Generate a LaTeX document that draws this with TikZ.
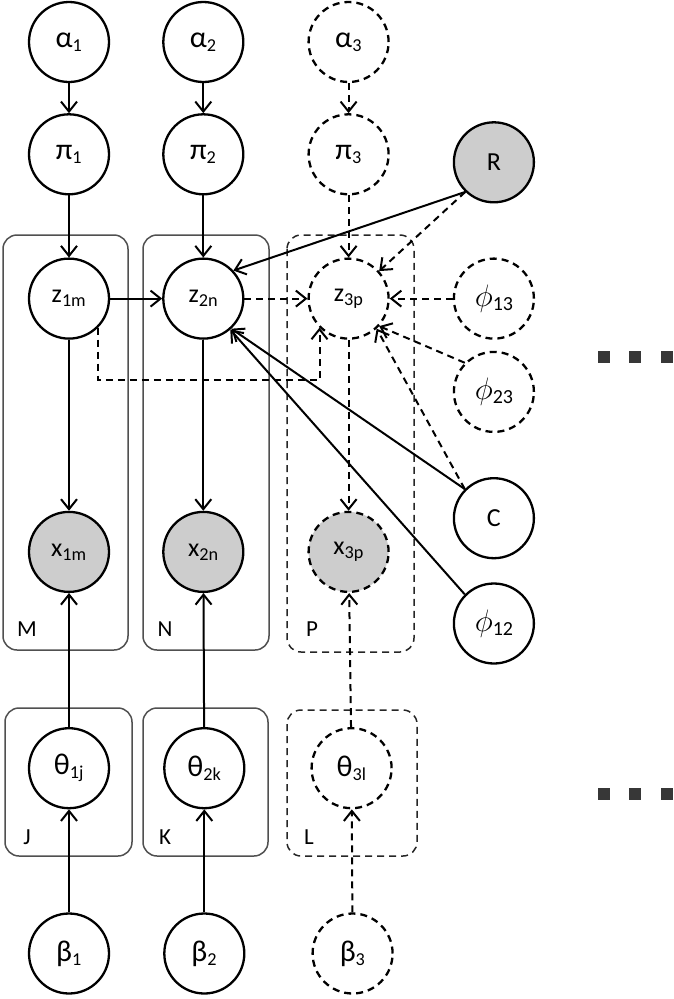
\documentclass[tikz,border=0pt]{standalone}
\usepackage{fix-cm}
\usepackage{fontspec}
\setmainfont{Carlito}
\usetikzlibrary{arrows.meta, positioning, calc}

\definecolor{obsgray}{RGB}{205,205,205}
\definecolor{plategray}{RGB}{80,80,80}
\definecolor{dotgray}{RGB}{55,55,55}

% greek letter a little larger than the subscript text
\newcommand{\gsub}[2]{{\fontsize{30}{32}\selectfont #1}\textsubscript{#2}}
\newcommand{\fsub}[1]{{\fontsize{31}{34}\selectfont$\phi$}%
    \raisebox{-4pt}{\fontsize{20}{22}\selectfont #1}}

\begin{document}
\begin{tikzpicture}[
    x=1pt, y=-1pt,
    latent/.style={circle, draw=black, line width=2.3pt, fill=white,
        minimum size=80pt, inner sep=0pt,
        font=\fontsize{26}{28}\selectfont},
    observed/.style={latent, fill=obsgray},
    ghost/.style={latent, dash pattern=on 7pt off 5pt},
    ghostobs/.style={ghost, fill=obsgray},
    arr/.style={-{Straight Barb[length=10pt, width=16pt, line width=2pt]},
        line width=2pt},
    darr/.style={arr, dash pattern=on 7pt off 5pt},
    plate/.style={draw=plategray, line width=1.5pt, rounded corners=14pt},
    dashplate/.style={plate, draw=black!85, dash pattern=on 7pt off 5pt},
    platelabel/.style={font=\fontsize{23}{24}\selectfont, inner sep=0pt},
    dotbox/.style={fill=dotgray, minimum size=12pt, inner sep=0pt}
]
\useasboundingbox (0,0) rectangle (674,999);

% plates
\draw[plate]     (3,235)   rectangle (128,650);
\draw[plate]     (143,235) rectangle (269,650);
\draw[dashplate] (287,235) rectangle (414,652);
\draw[plate]     (5,708)   rectangle (132,856);
\draw[plate]     (143,708) rectangle (268,856);
\draw[dashplate] (287,710) rectangle (417,856);
\node[platelabel] (labM) at (27,629) {M};
\node[platelabel] (labN) at (165,629) {N};
\node[platelabel] (labP) at (312,629) {P};
\node[platelabel] (labJ) at (27,837) {J};
\node[platelabel] (labK) at (165,837) {K};
\node[platelabel] (labL) at (309,837) {L};

% first column
\node[latent] (a1) at (69,42) {\gsub{α}{1}};
\node[latent, below=30pt of a1] (p1) {\gsub{π}{1}};
\node[latent, below=62pt of p1] (z1) {z\textsubscript{1m}};
\node[observed, below=171pt of z1] (x1) {x\textsubscript{1m}};
\node[latent, below=134pt of x1] (t1) {\gsub{θ}{1j}};
\node[latent, below=103pt of t1] (b1) {\gsub{β}{1}};
% second column
\node[latent, right=52pt of a1] (a2) {\gsub{α}{2}};
\node[latent, right=52pt of p1] (p2) {\gsub{π}{2}};
\node[latent, right=52pt of z1] (z2) {z\textsubscript{2n}};
\node[observed, right=52pt of x1] (x2) {x\textsubscript{2n}};
\node[latent, right=53pt of t1] (t2) {\gsub{θ}{2k}};
\node[latent, right=53pt of b1] (b2) {\gsub{β}{2}};
% third column, dashed
\node[ghost, right=63pt of a2] (a3) {\gsub{α}{3}};
\node[ghost, right=63pt of p2] (p3) {\gsub{π}{3}};
\node[ghost, right=63pt of z2] (z3) {z\textsubscript{3p}};
\node[ghostobs, right=63pt of x2] (x3) {x\textsubscript{3p}};
\node[ghost, right=65pt of t2] (t3) {\gsub{θ}{3l}};
\node[ghost, right=66pt of b2] (b3) {\gsub{β}{3}};
% shared nodes on the right
\node[ghost, right=63pt of z3] (f13) {\fsub{13}};
\node[observed, above=54pt of f13] (R) {R};
\node[ghost, below=11pt of f13] (f23) {\fsub{23}};
\node[latent, below=44pt of f23] (C) {C};
\node[latent, below=23pt of C] (f12) {\fsub{12}};

% more groups
\foreach \dx in {604,635,667} {
  \node[dotbox] (dtop\dx) at (\dx,357) {};
  \node[dotbox] (dbot\dx) at (\dx,794) {};
}

% arrows
\draw[arr] (a1) -- (p1);
\draw[arr] (a2) -- (p2);
\draw[darr] (a3) -- (p3);
\draw[arr] (p1) -- (z1);
\draw[arr] (p2) -- (z2);
\draw[darr] (p3) -- (z3);
\draw[arr] (z1) -- (x1);
\draw[arr] (z2) -- (x2);
\draw[darr] (z3) -- (x3);
\draw[arr] (t1) -- (x1);
\draw[arr] (t2) -- (x2);
\draw[darr] (t3) -- (x3);
\draw[arr] (b1) -- (t1);
\draw[arr] (b2) -- (t2);
\draw[darr] (b3) -- (t3);
\draw[arr] (z1) -- (z2);
\draw[darr] (z2) -- (z3);
\coordinate (zlow) at (0,380);
\draw[darr] (z1.-45) -- (z1.-45 |- zlow) -| (z3.-135);
\draw[arr] (R.226) -- (z2.43);
\draw[darr] (R.226) -- (z3.42);
\draw[darr] (f13) -- (z3);
\draw[darr] (f23.135) -- (z3.-42);
\draw[darr] (C.135) -- (z3.-47);
\draw[arr] (C.135) -- (z2.-47);
\draw[arr] (f12.135) -- (z2.-49);
\end{tikzpicture}
\end{document}
